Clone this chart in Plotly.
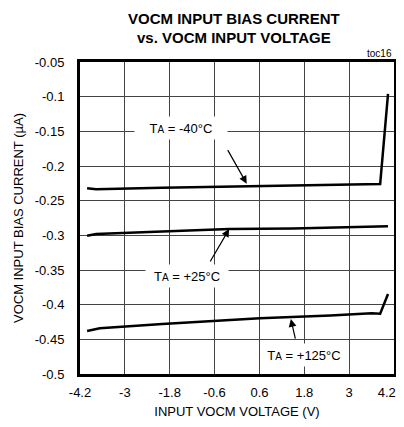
import plotly.graph_objects as go

# Input VOCM voltage (V) and bias current (uA)
v_m40 = [-4.01, -3.77, -2.0, 0.6, 2.5, 3.83, 4.04]
i_m40 = [-0.232, -0.2336, -0.2315, -0.229, -0.227, -0.226, -0.096]

v_p25 = [-4.01, -3.77, -2.0, -0.21, 1.5, 3.51, 3.77, 3.9, 4.04]
i_p25 = [-0.3005, -0.298, -0.2945, -0.291, -0.290, -0.2875, -0.2865, -0.2872, -0.287]

v_p125 = [-4.01, -3.67, -2.0, 0.61, 2.5, 3.6, 3.83, 4.04]
i_p125 = [-0.438, -0.434, -0.428, -0.4197, -0.4155, -0.4124, -0.413, -0.3846]

x_ticks = [-4.2, -3, -1.8, -0.6, 0.6, 1.8, 3, 4.2]
y_ticks = [-0.05, -0.1, -0.15, -0.2, -0.25, -0.3, -0.35, -0.4, -0.45, -0.5]

FONT = "Arial, Liberation Sans, sans-serif"
SUB_A = '<span style="font-size:10px">A</span>'

# last x label sits at the page edge; pad it so it isn't clipped
x_ticktext = [f"{v:g}" for v in x_ticks]
x_ticktext[-1] += "\u00a0" * 4

fig = go.Figure()
for xs, ys in [(v_m40, i_m40), (v_p25, i_p25), (v_p125, i_p125)]:
    fig.add_trace(
        go.Scatter(x=xs, y=ys, mode="lines", line=dict(color="black", width=2.5), showlegend=False)
    )

# Temperature labels (white box hides the grid behind them)
labels = [
    (f"T{SUB_A} = -40°C", -1.49, -0.1455, 90),
    (f"T{SUB_A} = +25°C", -1.33, -0.3586, 80),
    (f"T{SUB_A} = +125°C", 1.78, -0.4725, 82),
]
for text, x, y, w in labels:
    fig.add_annotation(
        x=x, y=y, text=text, showarrow=False, bgcolor="white", width=w, height=20,
        font=dict(family=FONT, size=13, color="black"),
    )

# Arrows pointing from labels to curves
arrows = [
    (-0.27, -0.175, 0.26, -0.2255),
    (-0.74, -0.340, -0.21, -0.291),
    (1.57, -0.451, 1.44, -0.4206),
]
for x0, y0, x1, y1 in arrows:
    fig.add_annotation(
        x=x1, y=y1, ax=x0, ay=y0, xref="x", yref="y", axref="x", ayref="y",
        text="", showarrow=True, arrowhead=2, arrowsize=1.3, arrowwidth=1.2, arrowcolor="black",
    )

# Two-line bold title
for line, ypos in [("VOCM INPUT BIAS CURRENT", 1.141), ("vs. VOCM INPUT VOLTAGE", 1.080)]:
    fig.add_annotation(
        x=0.490, y=ypos, xref="paper", yref="paper", xanchor="center", yanchor="middle",
        text=f"<b>{line}</b>", showarrow=False,
        font=dict(family=FONT, size=15, color="black"),
    )

fig.add_annotation(
    x=1, y=1, xref="paper", yref="paper", xanchor="right", yanchor="bottom", yshift=1,
    text="toc16", showarrow=False, font=dict(family=FONT, size=10, color="black"),
)

# page body adds an 8px margin, so the figure is 16px smaller than the window
fig.update_layout(
    width=388,
    height=411,
    margin=dict(l=72, r=2, t=54, b=45),
    paper_bgcolor="white",
    plot_bgcolor="white",
    font=dict(family=FONT, size=13, color="black"),
    xaxis=dict(
        range=[-4.2, 4.2],
        tickvals=x_ticks,
        ticktext=x_ticktext,
        showgrid=True, gridcolor="#444444", gridwidth=1,
        showline=True, linecolor="black", linewidth=3, mirror=True,
        zeroline=False, ticks="", ticklabelstandoff=4, automargin=False,
        ticklabeloverflow="allow",
        title=dict(text="INPUT VOCM VOLTAGE (V)", font=dict(size=13), standoff=11),
    ),
    yaxis=dict(
        range=[-0.5, -0.05],
        tickvals=y_ticks,
        ticktext=[f"{v:g}" for v in y_ticks],
        showgrid=True, gridcolor="#444444", gridwidth=1,
        showline=True, linecolor="black", linewidth=3, mirror=True,
        zeroline=False, ticks="", ticklabelstandoff=10, automargin=False,
        ticklabeloverflow="allow",
        title=dict(text="VOCM INPUT BIAS CURRENT (µA)", font=dict(size=13), standoff=9),
    ),
)

fig.write_html("out.html")
